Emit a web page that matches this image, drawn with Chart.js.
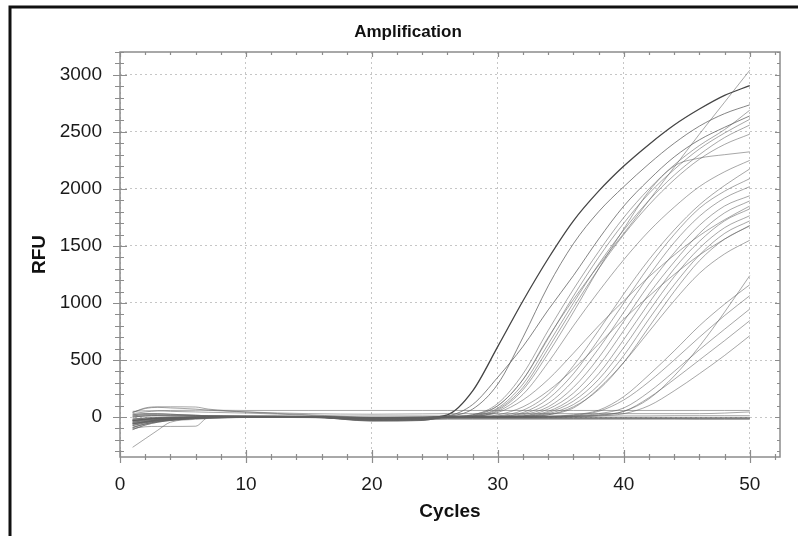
<!DOCTYPE html>
<html>
<head>
<meta charset="utf-8">
<title>Amplification</title>
<script src="https://cdn.jsdelivr.net/npm/chart.js@4.4.1/dist/chart.umd.min.js"></script>
<style>
  html, body { margin: 0; padding: 0; background: #ffffff; }
  #wrap { width: 798px; height: 536px; }
</style>
</head>
<body>
<div id="wrap"><canvas id="ampChart" width="798" height="536"></canvas></div>
<script>
const cycles = [1, 2, 3, 4, 6, 7, 10, 15, 20, 24, 26, 28, 30, 32, 34, 36, 38, 40, 42, 44, 46, 48, 50];
const xTicks = [0, 10, 20, 30, 40, 50];
const yTicks = [0, 500, 1000, 1500, 2000, 2500, 3000];

// Earliest wells (Ct ~ 27-29)
const earlyWells = [
  [-30, -20, -12, -8, -2, 0, 3, 3, -10, -5, 20, 230, 620, 1020, 1390, 1720, 1980, 2200, 2390, 2560, 2700, 2820, 2905],
  [-60, -40, -25, -15, -5, 0, 5, 5, -15, -10, 5, 70, 290, 700, 1150, 1520, 1800, 2020, 2220, 2400, 2550, 2660, 2737],
  [0, 10, 12, 10, 8, 6, 5, 3, -5, -3, 10, 110, 350, 620, 940, 1240, 1560, 1850, 2080, 2280, 2430, 2540, 2640],
];

// Middle wells (Ct ~ 31-33)
const midWells = [
  [-90, -60, -40, -25, -10, -5, 0, 0, -20, -15, 0, 20, 100, 330, 700, 1030, 1330, 1610, 1900, 2190, 2480, 2760, 3040],
  [20, 30, 30, 25, 15, 12, 8, 5, -5, 0, 5, 20, 120, 380, 760, 1120, 1450, 1750, 2000, 2210, 2380, 2520, 2690],
  [-45, -30, -20, -12, -5, -2, 2, 2, -30, -25, 5, 15, 100, 330, 690, 1060, 1400, 1700, 1960, 2170, 2350, 2490, 2610],
  [-75, -50, -30, -20, -8, -4, 0, 0, -10, -5, 0, 10, 80, 290, 640, 1000, 1340, 1640, 1900, 2120, 2300, 2450, 2560],
  [-20, -10, -5, -3, 0, 0, 2, 2, -8, -4, 0, 10, 70, 260, 600, 960, 1300, 1600, 1860, 2080, 2260, 2390, 2480],
  [40, 80, 90, 90, 88, 70, 45, 20, 0, 0, 0, 5, 60, 240, 560, 920, 1300, 1650, 1980, 2200, 2270, 2300, 2325],
  [10, 20, 20, 18, 15, 12, 10, 5, -25, -20, 0, 5, 50, 200, 480, 800, 1100, 1380, 1630, 1840, 2020, 2150, 2250],
  [-55, -45, -35, -25, -12, -8, -3, 0, -12, -8, 0, 5, 40, 150, 330, 560, 800, 1020, 1230, 1420, 1590, 1730, 1850],
  [-110, -70, -45, -30, -12, -6, -2, 0, -35, -30, 0, 0, 20, 90, 230, 420, 640, 860, 1060, 1250, 1420, 1560, 1680],
];

// Late wells (Ct ~ 35-38)
const lateWells = [
  [-60, -40, -25, -15, -5, 0, 5, 5, -15, -10, 0, 0, 10, 60, 200, 450, 760, 1080, 1380, 1640, 1860, 2030, 2175],
  [-265, -190, -115, -45, -20, -12, -2, 0, -25, -20, 0, 0, 5, 40, 160, 380, 680, 1000, 1320, 1600, 1830, 1980, 2090],
  [-30, -20, -12, -8, -2, 0, 3, 3, -10, -5, 0, 0, 5, 30, 120, 320, 600, 920, 1240, 1530, 1760, 1920, 2020],
  [-100, -85, -82, -82, -80, -5, 0, 0, -15, -10, 0, 0, 0, 20, 90, 260, 520, 840, 1160, 1440, 1680, 1850, 1940],
  [-90, -60, -40, -25, -10, -5, 0, 0, -20, -15, 0, 0, 0, 10, 70, 210, 450, 760, 1080, 1360, 1610, 1790, 1895],
  [50, 55, 55, 50, 45, 42, 35, 15, -20, -25, 0, 0, 0, 10, 50, 170, 380, 680, 1000, 1300, 1540, 1720, 1825],
  [0, 10, 12, 10, 8, 6, 5, 3, -5, -3, 0, 0, 0, 5, 40, 140, 330, 610, 930, 1230, 1480, 1660, 1765],
  [20, 30, 30, 25, 15, 12, 8, 5, -5, 0, 0, 0, 0, 5, 30, 110, 280, 540, 860, 1160, 1420, 1610, 1720],
  [-75, -50, -30, -20, -8, -4, 0, 0, -10, -5, 0, 0, 0, 0, 20, 90, 240, 480, 790, 1100, 1370, 1560, 1675],
];

// Very late wells (Ct ~ 40-44)
const veryLateWells = [
  [-45, -30, -20, -12, -5, -2, 2, 2, -30, -25, 0, 0, 0, 0, 0, 5, 15, 50, 160, 360, 620, 920, 1240],
  [-20, -10, -5, -3, 0, 0, 2, 2, -8, -4, 0, 0, 0, 0, 5, 20, 60, 180, 370, 580, 800, 990, 1160],
  [-55, -45, -35, -25, -12, -8, -3, 0, -12, -8, 0, 0, 0, 0, 5, 15, 50, 150, 310, 500, 700, 890, 1064],
  [10, 20, 20, 18, 15, 12, 10, 5, -25, -20, 0, 0, 0, 0, 0, 10, 30, 80, 220, 400, 590, 770, 947],
  [-110, -70, -45, -30, -12, -6, -2, 0, -35, -30, 0, 0, 0, 0, 0, 5, 20, 50, 170, 330, 500, 670, 845],
  [-30, -20, -12, -8, -2, 0, 3, 3, -10, -5, 0, 0, 0, 0, 0, 0, 10, 30, 100, 230, 380, 540, 713],
  [-60, -40, -25, -15, -5, 0, 5, 5, -15, -10, 0, 0, 0, 5, 20, 80, 250, 480, 750, 1020, 1260, 1430, 1550],
];

// Negative / no amplification wells
const flatWells = [
  [30, 45, 55, 58, 60, 60, 58, 58, 58, 58, 58, 58, 58, 58, 58, 58, 58, 58, 58, 58, 58, 58, 58],
  [40, 75, 85, 80, 70, 60, 45, 30, 25, 28, 30, 30, 30, 30, 30, 30, 30, 30, 30, 30, 30, 35, 45],
  [-40, -25, -15, -8, 0, 2, 5, 8, 10, 10, 10, 10, 10, 10, 10, 10, 10, 10, 10, 12, 12, 12, 12],
  [-70, -45, -28, -18, -8, -4, 0, 0, -15, -10, -5, -3, -2, -2, -2, -3, -3, -3, -3, -3, -3, -3, -3],
  [-95, -60, -40, -28, -12, -8, -4, -2, -25, -20, -10, -10, -10, -10, -10, -10, -10, -10, -12, -12, -12, -12, -12],
  [-50, -35, -25, -18, -10, -6, -3, -2, -30, -25, -15, -15, -15, -15, -15, -15, -15, -15, -15, -15, -15, -15, -15],
  [-15, -8, -4, -2, 0, 0, -2, -5, -20, -18, -18, -18, -18, -18, -18, -18, -18, -18, -18, -18, -20, -20, -20],
  [-35, -22, -14, -8, -3, -1, 0, 0, -12, -8, -8, -8, -8, -8, -8, -8, -8, -8, -8, -8, -8, -8, -8],
];

const FONT = "'Liberation Sans', Arial, Helvetica, sans-serif";

function toPoints(values) {
  return values.map((v, i) => ({ x: cycles[i], y: v }));
}

function wellDataset(values, color, width) {
  return {
    data: toPoints(values),
    borderColor: color,
    borderWidth: width,
    pointRadius: 0,
    cubicInterpolationMode: "monotone",
    fill: false,
  };
}

const datasets = [];
[...flatWells, ...veryLateWells, ...lateWells, ...midWells].forEach((w) => {
  datasets.push(wellDataset(w, "rgba(95, 95, 95, 0.62)", 0.9));
});
earlyWells.forEach((w, i) => {
  datasets.push(wellDataset(w, i === 0 ? "#444444" : "rgba(80, 80, 80, 0.7)", i === 0 ? 1.3 : 1));
});

// Plot frame with minor ticks + outer black border
const axisFrame = {
  id: "axisFrame",
  afterDatasetsDraw(chart) {
    const { ctx, chartArea: a } = chart;
    const x = chart.scales.x;
    const y = chart.scales.y;
    ctx.save();
    ctx.strokeStyle = "#8c8c8c";
    ctx.lineWidth = 1.5;
    ctx.strokeRect(a.left, a.top, a.right - a.left, a.bottom - a.top);

    ctx.lineWidth = 1.2;
    ctx.beginPath();
    for (let v = -300; v <= y.max; v += 100) {
      const py = Math.round(y.getPixelForValue(v)) + 0.5;
      const major = v % 500 === 0;
      ctx.moveTo(a.left - (major ? 7 : 5), py);
      ctx.lineTo(a.left + (major ? 7 : 4), py);
      ctx.moveTo(a.right, py);
      ctx.lineTo(a.right - (major ? 5 : 3), py);
    }
    for (let c = 0; c <= x.max; c += 2) {
      const px = Math.round(x.getPixelForValue(c)) + 0.5;
      const major = c % 10 === 0;
      ctx.moveTo(px, a.bottom - (major ? 7 : 3));
      ctx.lineTo(px, a.bottom + (major ? 6 : 3));
      ctx.moveTo(px, a.top);
      ctx.lineTo(px, a.top + (major ? 5 : 3));
    }
    ctx.stroke();
    ctx.restore();
  },
  afterDraw(chart) {
    const { ctx } = chart;
    ctx.save();
    ctx.strokeStyle = "#111111";
    ctx.lineWidth = 3;
    ctx.strokeRect(10, 7, 900, 900);
    ctx.restore();
  },
};

const gridStyle = {
  color: "#c6c6c6",
  lineWidth: 1,
  drawTicks: false,
};

new Chart(document.getElementById("ampChart"), {
  type: "line",
  data: { datasets: datasets },
  options: {
    responsive: false,
    animation: false,
    events: [],
    layout: { padding: { left: 18, right: 0, top: 0, bottom: 0 } },
    plugins: {
      legend: { display: false },
      tooltip: { enabled: false },
      title: {
        display: true,
        text: "Amplification",
        color: "#111111",
        font: { family: FONT, size: 17, weight: "bold", lineHeight: 1.2 },
        padding: { top: 21.8, bottom: 9.8 },
      },
    },
    scales: {
      x: {
        type: "linear",
        min: 0,
        max: 52.4,
        grid: gridStyle,
        border: { display: false, dash: [2, 3] },
        afterBuildTicks: (s) => { s.ticks = xTicks.map((v) => ({ value: v })); },
        afterFit: (s) => { s.height = 79; },
        ticks: {
          color: "#1a1a1a",
          padding: 16,
          maxRotation: 0,
          font: { family: FONT, size: 19 },
          callback: (v) => String(v),
        },
        title: {
          display: true,
          text: "Cycles",
          color: "#111111",
          font: { family: FONT, size: 19, weight: "bold", lineHeight: 1.2 },
          padding: { top: 0, bottom: 12.6 },
        },
      },
      y: {
        type: "linear",
        position: "left",
        min: -350,
        max: 3200,
        grid: gridStyle,
        border: { display: false, dash: [2, 3] },
        afterBuildTicks: (s) => { s.ticks = yTicks.map((v) => ({ value: v })); },
        afterFit: (s) => { s.width = 102; },
        ticks: {
          color: "#1a1a1a",
          padding: 18,
          font: { family: FONT, size: 19 },
          callback: (v) => String(v),
        },
        title: {
          display: true,
          text: "RFU",
          color: "#111111",
          font: { family: FONT, size: 19, weight: "bold", lineHeight: 1.2 },
          padding: { top: 10.6, bottom: 0 },
        },
      },
      yRight: {
        type: "linear",
        position: "right",
        grid: { display: false },
        border: { display: false },
        ticks: { display: false },
        afterFit: (s) => { s.width = 18; },
      },
    },
  },
  plugins: [axisFrame],
});
</script>
</body>
</html>
